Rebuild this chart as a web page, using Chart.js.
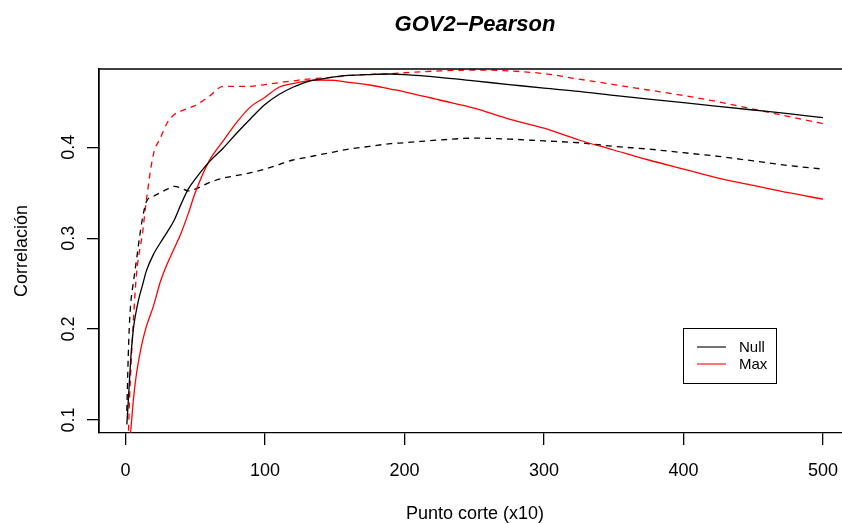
<!DOCTYPE html>
<html>
<head>
<meta charset="utf-8">
<script src="https://cdn.jsdelivr.net/npm/chart.js@4.4.1/dist/chart.umd.min.js"></script>
<style>
  html, body { margin: 0; padding: 0; background: #fff; }
  #wrap { width: 842px; height: 523px; }
</style>
</head>
<body>
<div id="wrap"><canvas id="c" width="842" height="523"></canvas></div>
<script>
// Cut points (x10) at which the correlation was evaluated
const cutPoints = [1, 2, 3, 4, 5, 6, 8, 10, 12, 15, 20, 25, 30, 35, 40, 45, 50, 60, 70, 80, 90,
  100, 110, 120, 130, 140, 150, 160, 175, 190, 200, 225, 250, 275, 300, 325, 350, 375, 400,
  425, 450, 475, 500];

// Null model, solid line
const nullMain = [0.095, 0.120, 0.147, 0.172, 0.190, 0.204, 0.222, 0.236, 0.247, 0.264, 0.282,
  0.295, 0.307, 0.320, 0.338, 0.354, 0.365, 0.384, 0.399, 0.416, 0.432, 0.447, 0.458, 0.466,
  0.472, 0.475, 0.4775, 0.479, 0.480, 0.4806, 0.480, 0.477, 0.473, 0.469, 0.465, 0.4615,
  0.457, 0.453, 0.449, 0.445, 0.441, 0.437, 0.4326];

// Max model, solid line
const maxMain = [0.030, 0.050, 0.070, 0.092, 0.110, 0.127, 0.152, 0.170, 0.185, 0.203, 0.225,
  0.252, 0.272, 0.289, 0.306, 0.327, 0.350, 0.385, 0.407, 0.428, 0.445, 0.455, 0.466, 0.470,
  0.473, 0.474, 0.4735, 0.4715, 0.4685, 0.464, 0.461, 0.452, 0.443, 0.431, 0.421, 0.408,
  0.397, 0.386, 0.376, 0.366, 0.358, 0.350, 0.343];

// Null model, dashed line
const nullAlt = [0.110, 0.170, 0.210, 0.232, 0.244, 0.255, 0.277, 0.300, 0.320, 0.340, 0.346,
  0.350, 0.354, 0.357, 0.355, 0.352, 0.354, 0.361, 0.366, 0.369, 0.372, 0.376, 0.381, 0.386,
  0.389, 0.392, 0.395, 0.398, 0.401, 0.404, 0.405, 0.408, 0.410, 0.409, 0.407, 0.405,
  0.401, 0.398, 0.394, 0.390, 0.385, 0.380, 0.376];

// Max model, dashed line
const maxAlt = [0.040, 0.080, 0.125, 0.160, 0.190, 0.218, 0.262, 0.285, 0.303, 0.342, 0.392,
  0.410, 0.427, 0.436, 0.440, 0.443, 0.446, 0.456, 0.467, 0.467, 0.467, 0.469, 0.471, 0.473,
  0.475, 0.476, 0.477, 0.479, 0.480, 0.481, 0.482, 0.484, 0.485, 0.484, 0.481, 0.475,
  0.469, 0.463, 0.457, 0.450, 0.442, 0.434, 0.426];

const xTicks = [0, 100, 200, 300, 400, 500];
const yTicks = [0.1, 0.2, 0.3, 0.4];
const yTickLabels = ['0.1', '0.2', '0.3', '0.4'];

const titleText = 'GOV2\u2212Pearson';
const xTitle = 'Punto corte (x10)';
const yTitle = 'Correlaci\u00f3n';
const legendNames = ['Null', 'Max'];

const FONT = '"Liberation Sans", Arial, Helvetica, sans-serif';

const toPoints = arr => arr.map((v, i) => ({ x: cutPoints[i], y: v }));

function series(label, values, color, dashed) {
  return {
    label: label,
    data: toPoints(values),
    borderColor: color,
    borderWidth: 1.3,
    borderDash: dashed ? [6, 5] : [],
    pointRadius: 0,
    fill: false,
    cubicInterpolationMode: 'monotone',
    showInLegend: !dashed
  };
}

// Frame, rotated y labels, titles and the boxed legend
const decorations = {
  id: 'decorations',
  afterDraw(chart) {
    const ctx = chart.ctx;
    const area = chart.chartArea;
    const xs = chart.scales.x;
    const ys = chart.scales.y;
    ctx.save();
    ctx.strokeStyle = '#000';
    ctx.lineWidth = 1.3;
    ctx.beginPath();
    ctx.moveTo(area.left, area.bottom);
    ctx.lineTo(area.left, area.top);
    ctx.lineTo(area.right + 2, area.top);
    ctx.stroke();

    // y tick labels, parallel to the axis
    ctx.fillStyle = '#000';
    ctx.font = '18px ' + FONT;
    ctx.textAlign = 'center';
    ctx.textBaseline = 'alphabetic';
    yTicks.forEach((v, i) => {
      const py = ys.getPixelForValue(v);
      ctx.save();
      ctx.translate(74, py);
      ctx.rotate(-Math.PI / 2);
      ctx.fillText(yTickLabels[i], 0, 0);
      ctx.restore();
    });

    // plot region centre (the axis extends 4% past the data on each side)
    const span = cutPoints[cutPoints.length - 1] - cutPoints[0];
    const cx = (xs.getPixelForValue(cutPoints[0] - 0.04 * span) +
                xs.getPixelForValue(cutPoints[cutPoints.length - 1] + 0.04 * span)) / 2;
    const cy = (area.top + area.bottom) / 2;

    ctx.font = 'italic bold 22px ' + FONT;
    ctx.fillText(titleText, cx, 31);

    ctx.font = '18px ' + FONT;
    ctx.fillText(xTitle, cx, 519);

    ctx.save();
    ctx.translate(27, cy);
    ctx.rotate(-Math.PI / 2);
    ctx.fillText(yTitle, 0, 0);
    ctx.restore();

    // legend
    const lx = 683, ly = 328, lw = 93, lh = 55;
    ctx.lineWidth = 1;
    ctx.strokeStyle = '#000';
    ctx.strokeRect(lx + 0.5, ly + 0.5, lw, lh);
    const shown = chart.data.datasets.filter(d => d.showInLegend);
    ctx.font = '15px ' + FONT;
    ctx.textAlign = 'left';
    ctx.textBaseline = 'middle';
    shown.forEach((d, i) => {
      const y = 347 + i * 17;
      ctx.strokeStyle = d.borderColor;
      ctx.lineWidth = 1.1;
      ctx.beginPath();
      ctx.moveTo(697, y);
      ctx.lineTo(726, y);
      ctx.stroke();
      ctx.fillStyle = '#000';
      ctx.fillText(legendNames[i], 739, y + 1);
    });
    ctx.restore();
  }
};

new Chart(document.getElementById('c'), {
  type: 'line',
  data: {
    datasets: [
      series('Null', nullMain, '#000000', false),
      series('Max', maxMain, '#ff0000', false),
      series('Null', nullAlt, '#000000', true),
      series('Max', maxAlt, '#ff0000', true)
    ]
  },
  options: {
    responsive: false,
    animation: false,
    devicePixelRatio: 1,
    layout: { padding: { top: 69, right: 0, left: 0, bottom: 0 } },
    plugins: {
      legend: { display: false },
      title: { display: false },
      tooltip: { enabled: false }
    },
    scales: {
      x: {
        type: 'linear',
        min: -18.96,
        max: 513.6,
        afterFit(scale) {
          scale.height = 90;
          scale.paddingLeft = 0;
          scale.paddingRight = 0;
        },
        afterBuildTicks(scale) { scale.ticks = xTicks.map(v => ({ value: v })); },
        grid: { drawOnChartArea: false, drawTicks: true, tickLength: 12, color: '#000', lineWidth: 1.3 },
        border: { display: true, color: '#000', width: 1.3 },
        ticks: {
          color: '#000',
          padding: 15,
          maxRotation: 0,
          autoSkip: false,
          font: { family: FONT, size: 18 },
          callback: v => String(v)
        }
      },
      y: {
        type: 'linear',
        min: 0.0857,
        max: 0.4861,
        afterFit(scale) {
          scale.width = 99;
          scale.paddingTop = 0;
          scale.paddingBottom = 0;
        },
        afterBuildTicks(scale) { scale.ticks = yTicks.map(v => ({ value: v })); },
        grid: { drawOnChartArea: false, drawTicks: true, tickLength: 12, color: '#000', lineWidth: 1.3 },
        border: { display: true, color: '#000', width: 1.3 },
        ticks: { color: 'rgba(0,0,0,0)', font: { family: FONT, size: 18 } }
      }
    }
  },
  plugins: [decorations]
});
</script>
</body>
</html>
